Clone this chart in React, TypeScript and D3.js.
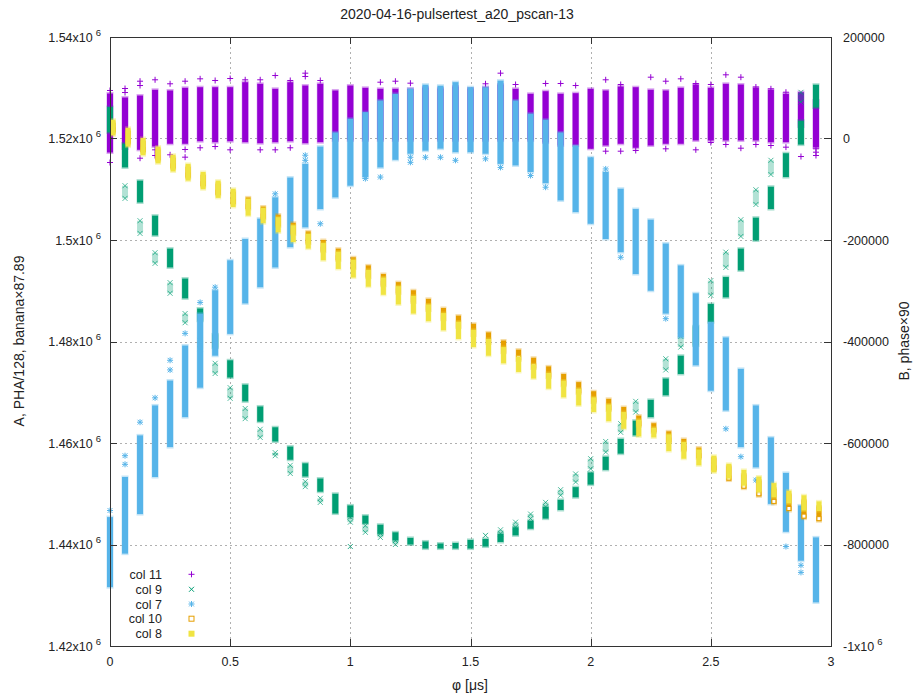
import React from "react";
import * as d3 from "d3";

// scan positions φ [μs]
const phi = [0, 0.0625, 0.125, 0.1875, 0.25, 0.3125, 0.375, 0.4375, 0.5, 0.5625, 0.625, 0.6875, 0.75, 0.8125, 0.875, 0.9375,
  1, 1.0625, 1.125, 1.1875, 1.25, 1.3125, 1.375, 1.4375, 1.5, 1.5625, 1.625, 1.6875, 1.75, 1.8125, 1.875, 1.9375,
  2, 2.0625, 2.125, 2.1875, 2.25, 2.3125, 2.375, 2.4375, 2.5, 2.5625, 2.625, 2.6875, 2.75, 2.8125, 2.875, 2.9375];
const col8Shift = 0.0125;

const title = "2020-04-16-pulsertest_a20_pscan-13";
const xTicks = [0, 0.5, 1, 1.5, 2, 2.5, 3];
const yTicksA = [1.42e6, 1.44e6, 1.46e6, 1.48e6, 1.5e6, 1.52e6, 1.54e6];
const yTicksB = [-1e6, -800000, -600000, -400000, -200000, 0, 200000];
const legendLabels = ["col 11", "col 9", "col 7", "col 10", "col 8"];

// col 11 (B axis): range of each scan step
const col11Top = [88.7e3, 80.8e3, 84.7e3, 96.0e3, 94.6e3, 99.9e3, 101.1e3, 101.1e3, 101.1e3, 110.9e3,
  107.8e3, 97.9e3, 110.9e3, 104.4e3, 107.8e3, 94.6e3, 104.4e3, 99.9e3, 97.9e3, 97.9e3,
  97.9e3, 100.5e3, 98.5e3, 102.5e3, 98.5e3, 101.1e3, 106.4e3, 97.9e3, 88.1e3, 93.2e3,
  88.1e3, 89.3e3, 97.9e3, 94.6e3, 102.5e3, 101.1e3, 96.0e3, 94.6e3, 99.9e3, 106.4e3,
  99.9e3, 107.8e3, 106.4e3, 99.9e3, 96.0e3, 88.1e3, 91.2e3, 74.9e3];
const col11Bottom = [-27.6e3, -19.7e3, -22.3e3, -15.8e3, -10.4e3, -10.4e3, -5.3e3, -7.3e3, -5.3e3, -7.3e3,
  -9.3e3, -7.3e3, -5.3e3, -9.3e3, -7.3e3, -3.9e3, -3.9e3, -3.9e3, -3.9e3, -3.9e3,
  -3.9e3, -3.9e3, -3.9e3, -3.9e3, -3.9e3, -3.9e3, -3.9e3, -3.9e3, -3.9e3, -7.9e3,
  -13.8e3, -13.8e3, -20.3e3, -13.8e3, -10.4e3, -18.3e3, -13.8e3, -10.4e3, -10.4e3, -3.9e3,
  -3.9e3, -3.9e3, -3.9e3, -3.9e3, -7.3e3, -7.3e3, 23.6e3, -17.7e3];
// [step index, value]
const col11Extra = [[0, 94.6e3], [0, -47.3e3], [1, 98.5e3], [1, 90.6e3], [1, -36.8e3], [2, 112.9e3], [2, 104.4e3], [2, -38.8e3],
  [3, 115.7e3], [3, -22.3e3], [3, -33.5e3], [4, 107.8e3], [4, -32.1e3], [5, 112.9e3], [5, -21.7e3], [5, -36.8e3],
  [6, 117.6e3], [6, -18.3e3], [7, 114.3e3], [7, -15.8e3], [8, 118.2e3], [8, -22.3e3], [9, 115.7e3], [10, 115.7e3], [10, -22.3e3],
  [11, 124.1e3], [11, -22.3e3], [12, 114.3e3], [12, -18.3e3], [13, 128.7e3], [13, 122.2e3], [14, 114.3e3],
  [18, 110.9e3], [19, 112.9e3], [20, 109.0e3], [25, 107.8e3], [26, 128.7e3], [27, 106.4e3], [29, 108.4e3], [30, 108.4e3], [31, 104.4e3],
  [33, 115.7e3], [33, -25.0e3], [34, 106.4e3], [34, -25.0e3], [35, -23.6e3], [36, 120.8e3], [37, 112.9e3], [37, -20.3e3],
  [38, 117.6e3], [39, 108.4e3], [39, -22.3e3], [40, 106.4e3], [40, -7.9e3], [41, 125.5e3], [41, -11.8e3], [42, 120.8e3], [42, -19.1e3],
  [43, 101.5e3], [43, -11.8e3], [44, 97.9e3], [44, -13.8e3], [45, 91.2e3], [45, -17.1e3], [46, -35.5e3], [47, -20.3e3], [47, -27.0e3], [47, -33.5e3]];

// col 9 (A axis)
const col9Top = [1526.2e3, 1519.0e3, 1511.7e3, 1504.8e3, 1498.3e3, 1492.4e3, 1486.5e3, 1481.4e3, 1476.3e3, 1471.5e3,
  1467.2e3, 1463.1e3, 1459.3e3, 1456.0e3, 1453.0e3, 1450.0e3, 1447.7e3, 1445.7e3, 1443.9e3, 1442.4e3,
  1441.3e3, 1440.6e3, 1440.2e3, 1440.3e3, 1440.9e3, 1441.1e3, 1442.1e3, 1443.4e3, 1444.7e3, 1447.4e3,
  1448.8e3, 1451.3e3, 1454.2e3, 1457.3e3, 1460.8e3, 1464.4e3, 1468.5e3, 1472.7e3, 1477.2e3, 1483.0e3,
  1487.4e3, 1492.7e3, 1498.3e3, 1504.4e3, 1510.5e3, 1517.1e3, 1523.5e3, 1530.6e3];
const col9Bottom = [1521.2e3, 1514.3e3, 1507.4e3, 1500.9e3, 1494.6e3, 1488.5e3, 1484.1e3, 1478.8e3, 1472.9e3, 1468.2e3,
  1464.2e3, 1460.3e3, 1456.7e3, 1453.4e3, 1450.4e3, 1446.1e3, 1445.4e3, 1444.1e3, 1442.1e3, 1440.8e3,
  1440.0e3, 1439.2e3, 1439.2e3, 1439.2e3, 1439.2e3, 1439.6e3, 1440.5e3, 1441.8e3, 1443.1e3, 1445.1e3,
  1446.8e3, 1449.3e3, 1451.8e3, 1454.7e3, 1457.9e3, 1461.5e3, 1465.1e3, 1469.4e3, 1473.6e3, 1479.2e3,
  1483.8e3, 1488.7e3, 1494.0e3, 1499.9e3, 1506.1e3, 1512.4e3, 1518.8e3, 1526.1e3];
// sparse clusters: [step index, top, bottom]
const col9Sparse = [[1, 1510.7e3, 1508.2e3], [2, 1503.8e3, 1501.3e3], [3, 1497.5e3, 1495.4e3], [4, 1491.6e3, 1489.5e3],
  [5, 1485.5e3, 1483.7e3], [6, 1480.2e3, 1478.6e3], [7, 1475.7e3, 1473.7e3], [8, 1470.9e3, 1468.8e3], [9, 1466.8e3, 1464.8e3],
  [10, 1462.7e3, 1461.1e3], [11, 1458.1e3, 1457.5e3], [12, 1455.6e3, 1454.0e3], [13, 1452.4e3, 1451.4e3], [14, 1449.1e3, 1448.3e3],
  [16, 1445.4e3, 1444.4e3], [17, 1443.7e3, 1442.4e3], [18, 1442.2e3, 1441.4e3], [19, 1440.8e3, 1440.0e3],
  [26, 1442.9e3, 1442.1e3], [27, 1444.4e3, 1443.4e3], [28, 1446.0e3, 1445.1e3], [29, 1448.3e3, 1447.4e3], [30, 1450.8e3, 1449.7e3],
  [31, 1453.9e3, 1452.3e3], [32, 1456.9e3, 1454.9e3], [33, 1460.3e3, 1458.2e3], [34, 1463.8e3, 1462.1e3], [35, 1468.2e3, 1466.1e3],
  [37, 1476.6e3, 1474.4e3], [38, 1481.0e3, 1478.9e3], [40, 1492.0e3, 1489.1e3], [41, 1497.6e3, 1494.6e3], [42, 1504.0e3, 1500.7e3],
  [43, 1509.9e3, 1507.0e3], [44, 1515.7e3, 1512.9e3], [46, 1529.1e3, 1527.2e3]];
const col9Extra = [[16, 1439.6e3], [25, 1441.8e3]];

// col 7 (A axis)
const col7Top = [1445.4e3, 1453.3e3, 1461.5e3, 1467.4e3, 1472.3e3, 1479.2e3, 1485.5e3, 1490.1e3, 1496.0e3, 1500.2e3,
  1504.2e3, 1508.4e3, 1512.3e3, 1515.0e3, 1518.4e3, 1521.2e3, 1523.9e3, 1525.2e3, 1527.5e3, 1528.8e3,
  1529.8e3, 1530.6e3, 1530.4e3, 1531.1e3, 1530.1e3, 1530.1e3, 1531.4e3, 1527.5e3, 1524.9e3, 1523.7e3,
  1521.2e3, 1518.6e3, 1516.3e3, 1513.4e3, 1510.1e3, 1506.1e3, 1504.0e3, 1499.3e3, 1495.0e3, 1489.5e3,
  1483.8e3, 1480.8e3, 1474.6e3, 1467.4e3, 1461.1e3, 1454.1e3, 1447.7e3, 1441.4e3];
const col7Bottom = [1431.6e3, 1438.2e3, 1446.0e3, 1453.3e3, 1459.2e3, 1465.1e3, 1470.9e3, 1477.2e3, 1481.5e3, 1487.5e3,
  1490.7e3, 1494.6e3, 1498.6e3, 1502.5e3, 1506.1e3, 1508.4e3, 1510.7e3, 1512.4e3, 1514.3e3, 1515.8e3,
  1517.0e3, 1517.6e3, 1518.0e3, 1517.3e3, 1517.3e3, 1517.0e3, 1515.0e3, 1514.7e3, 1513.4e3, 1511.2e3,
  1507.8e3, 1505.5e3, 1503.2e3, 1500.2e3, 1497.6e3, 1493.3e3, 1490.0e3, 1485.5e3, 1480.8e3, 1475.3e3,
  1470.3e3, 1466.4e3, 1459.2e3, 1455.2e3, 1448.0e3, 1442.5e3, 1436.8e3, 1428.6e3];
const col7Extra = [[0, 1446.7e3], [1, 1457.5e3], [1, 1455.8e3], [2, 1464.1e3], [3, 1468.9e3], [4, 1476.3e3], [4, 1474.4e3],
  [5, 1481.6e3], [6, 1487.7e3], [7, 1490.7e3], [11, 1509.1e3], [13, 1516.7e3], [13, 1515.7e3], [14, 1503.2e3], [17, 1512.1e3],
  [18, 1512.4e3], [20, 1516.3e3], [20, 1515.3e3], [21, 1516.3e3], [22, 1516.3e3], [23, 1515.7e3], [25, 1516.0e3], [26, 1514.3e3],
  [28, 1512.7e3], [29, 1510.4e3], [33, 1514.0e3], [34, 1496.6e3], [37, 1484.5e3], [41, 1462.8e3], [42, 1457.3e3], [43, 1452.7e3],
  [45, 1439.6e3], [46, 1435.9e3], [46, 1434.5e3]];

// col 10 (A axis)
const col10Top = [1523.1e3, 1521.5e3, 1519.5e3, 1517.8e3, 1516.2e3, 1514.4e3, 1512.8e3, 1511.1e3, 1509.5e3, 1508.4e3,
  1506.6e3, 1505.0e3, 1503.4e3, 1501.7e3, 1500.0e3, 1498.3e3, 1496.6e3, 1495.0e3, 1493.3e3, 1491.7e3,
  1490.1e3, 1488.4e3, 1486.6e3, 1485.1e3, 1483.5e3, 1481.8e3, 1480.2e3, 1478.4e3, 1476.8e3, 1475.1e3,
  1473.6e3, 1472.0e3, 1470.2e3, 1468.7e3, 1467.1e3, 1465.4e3, 1463.9e3, 1462.3e3, 1460.8e3, 1459.1e3,
  1457.0e3, 1455.4e3, 1453.8e3, 1452.6e3, 1451.0e3, 1449.9e3, 1448.7e3, 1447.5e3];
const col10Bottom = [1521.2e3, 1519.0e3, 1517.3e3, 1515.7e3, 1514.1e3, 1512.3e3, 1510.6e3, 1508.9e3, 1507.1e3, 1506.1e3,
  1504.2e3, 1502.7e3, 1501.1e3, 1499.3e3, 1497.7e3, 1496.0e3, 1494.4e3, 1492.6e3, 1491.0e3, 1489.5e3,
  1487.7e3, 1486.1e3, 1484.3e3, 1482.8e3, 1481.2e3, 1479.6e3, 1477.8e3, 1476.3e3, 1474.7e3, 1472.9e3,
  1471.3e3, 1469.8e3, 1468.0e3, 1466.4e3, 1464.8e3, 1463.3e3, 1462.1e3, 1460.1e3, 1458.5e3, 1457.0e3,
  1454.6e3, 1452.6e3, 1451.0e3, 1449.5e3, 1448.0e3, 1446.6e3, 1445.1e3, 1444.6e3];

// col 8 (A axis)
const col8Top = [1523.7e3, 1522.1e3, 1520.1e3, 1518.4e3, 1516.8e3, 1515.0e3, 1513.4e3, 1511.7e3, 1510.1e3, 1508.1e3,
  1506.3e3, 1504.5e3, 1502.9e3, 1501.2e3, 1499.4e3, 1497.7e3, 1496.1e3, 1494.1e3, 1492.6e3, 1490.9e3,
  1489.0e3, 1487.3e3, 1485.6e3, 1483.9e3, 1482.3e3, 1480.5e3, 1478.9e3, 1477.0e3, 1475.5e3, 1473.8e3,
  1472.3e3, 1470.7e3, 1469.0e3, 1467.6e3, 1466.1e3, 1464.6e3, 1463.0e3, 1461.7e3, 1460.2e3, 1458.7e3,
  1457.5e3, 1455.9e3, 1454.7e3, 1453.4e3, 1452.1e3, 1450.6e3, 1449.7e3, 1448.5e3];
const col8Bottom = [1520.6e3, 1518.4e3, 1516.7e3, 1515.1e3, 1513.5e3, 1511.7e3, 1510.0e3, 1508.3e3, 1506.5e3, 1504.8e3,
  1503.3e3, 1501.5e3, 1499.6e3, 1498.3e3, 1496.0e3, 1494.3e3, 1492.6e3, 1490.8e3, 1489.2e3, 1487.3e3,
  1485.5e3, 1484.0e3, 1482.2e3, 1480.5e3, 1478.9e3, 1477.2e3, 1475.7e3, 1474.0e3, 1472.7e3, 1470.7e3,
  1469.0e3, 1467.4e3, 1466.1e3, 1464.3e3, 1462.8e3, 1461.3e3, 1461.1e3, 1458.4e3, 1456.9e3, 1455.6e3,
  1454.2e3, 1453.0e3, 1451.6e3, 1450.3e3, 1449.3e3, 1448.1e3, 1446.7e3, 1446.6e3];

const C11 = "#9400d3", C9 = "#009e73", C7 = "#56b4e9", C10 = "#e69f00", C8 = "#f0e442";
const FONT = "'Liberation Sans', Arial, Helvetica, sans-serif";

const L = 110, R = 831, T = 37, B = 646;

const plusP = (cx: number, cy: number, s: number) => `M${cx - s},${cy}H${cx + s}M${cx},${cy - s}V${cy + s}`;
const crossP = (cx: number, cy: number, s: number) => `M${cx - s},${cy - s}L${cx + s},${cy + s}M${cx - s},${cy + s}L${cx + s},${cy - s}`;
const starP = (cx: number, cy: number, s: number) => plusP(cx, cy, s) + crossP(cx, cy, s * 0.8);

export default function App() {
  const x = d3.scaleLinear().domain([0, 3]).range([L, R]);
  const yA = d3.scaleLinear().domain([1.42e6, 1.54e6]).range([B, T]);
  const yB = d3.scaleLinear().domain([-1e6, 2e5]).range([B, T]);

  const strip = (cx: number, yt: number, yb: number, w: number, color: string, key: string) => (
    <g key={key}>
      <rect x={cx - w / 2 - 0.5} y={yt - 1.5} width={w + 1} height={yb - yt + 3} fill={color} opacity={0.35} />
      <rect x={cx - w / 2} y={yt} width={w} height={yb - yt} fill={color} />
    </g>
  );

  const supLabel = (base: string, exp: string) => (
    <>
      <tspan>{base}</tspan>
      <tspan dx={3} dy={-6} fontSize={9.5}>{exp}</tspan>
    </>
  );

  const legendY = [574.3, 589.3, 604, 618.7, 633.7];

  return (
    <svg width={914} height={697} style={{ position: "absolute", left: 0, top: 0, background: "#fff" }}
      fontFamily={FONT} fontSize={12}>
      <rect x={0} y={0} width={914} height={697} fill="#fff" />
      {/* grid */}
      <g stroke="#b0b0b0" strokeWidth={1} strokeDasharray="2,3">
        {yTicksA.slice(1, -1).map((v) => (
          <line key={"gy" + v} x1={L} x2={R} y1={Math.round(yA(v)) + 0.5} y2={Math.round(yA(v)) + 0.5} />
        ))}
        {xTicks.slice(1, -1).map((v) => (
          <line key={"gx" + v} x1={Math.round(x(v)) + 0.5} x2={Math.round(x(v)) + 0.5} y1={T} y2={B} />
        ))}
      </g>

      {/* col 11 */}
      <g>
        {phi.map((p, i) => strip(x(p), yB(col11Top[i]), yB(col11Bottom[i]), 6, C11, "p" + i))}
        <path d={col11Extra.map(([k, v]) => plusP(x(phi[k]), yB(v), 3)).join("")} stroke={C11} strokeWidth={1} fill="none" />
      </g>
      {/* col 9 */}
      <g>
        {phi.map((p, i) => strip(x(p), yA(col9Top[i]), yA(col9Bottom[i]), 6, C9, "g" + i))}
        {col9Sparse.map(([k, t, b]) => (
          <g key={"gs" + k}>
            <rect x={x(phi[k]) - 3} y={yA(t)} width={6} height={yA(b) - yA(t)} fill={C9} opacity={0.3} />
            <path d={crossP(x(phi[k]), yA(t), 2.5) + crossP(x(phi[k]), yA(b), 2.5)} stroke={C9} strokeWidth={1} opacity={0.7} fill="none" />
          </g>
        ))}
        <path d={col9Extra.map(([k, v]) => crossP(x(phi[k]), yA(v), 2.5)).join("")} stroke={C9} strokeWidth={1} fill="none" opacity={0.8} />
      </g>
      {/* col 7 */}
      <g>
        {phi.map((p, i) => strip(x(p), yA(col7Top[i]), yA(col7Bottom[i]), 6, C7, "b" + i))}
        <path d={col7Extra.map(([k, v]) => starP(x(phi[k]), yA(v), 3)).join("")} stroke={C7} strokeWidth={1} fill="none" />
      </g>
      {/* col 10 */}
      <g>
        {phi.map((p, i) => strip(x(p + col8Shift), yA(col10Top[i]), yA(col10Bottom[i]), 5, C10, "o" + i))}
        {phi.map((p, i) => (
          <rect key={"os" + i} x={x(p + col8Shift) - 2} y={yA(col10Bottom[i]) - 4.5} width={4} height={4}
            fill="#fff" stroke={C10} strokeWidth={1} />
        ))}
      </g>
      {/* col 8 */}
      <g>
        {phi.map((p, i) => strip(x(p + col8Shift), yA(col8Top[i]), yA(col8Bottom[i]), 5, C8, "y" + i))}
      </g>

      {/* border */}
      <rect x={L + 0.5} y={T + 0.5} width={R - L} height={B - T} fill="none" stroke="#333" strokeWidth={1} />

      {/* ticks */}
      <g stroke="#333" strokeWidth={1}>
        {yTicksA.map((v) => (
          <line key={"ta" + v} x1={L} x2={L + 7} y1={Math.round(yA(v)) + 0.5} y2={Math.round(yA(v)) + 0.5} />
        ))}
        {yTicksB.map((v) => (
          <line key={"tb" + v} x1={R - 7} x2={R} y1={Math.round(yB(v)) + 0.5} y2={Math.round(yB(v)) + 0.5} />
        ))}
        {xTicks.map((v) => (
          <g key={"tx" + v}>
            <line x1={Math.round(x(v)) + 0.5} x2={Math.round(x(v)) + 0.5} y1={B} y2={B - 7} />
            <line x1={Math.round(x(v)) + 0.5} x2={Math.round(x(v)) + 0.5} y1={T} y2={T + 7} />
          </g>
        ))}
      </g>

      {/* tick labels */}
      <g fill="#222" fontSize={12.5}>
        {yTicksA.map((v) => (
          <text key={"la" + v} x={101} y={yA(v) + 4.5} textAnchor="end">
            {supLabel(String(+(v / 1e6).toFixed(2)) + "x10", "6")}
          </text>
        ))}
        {yTicksB.map((v) => (
          <text key={"lb" + v} x={843} y={yB(v) + 4.5} textAnchor="start">
            {v === -1e6 ? supLabel("-1x10", "6") : String(v)}
          </text>
        ))}
        {xTicks.map((v) => (
          <text key={"lx" + v} x={x(v)} y={665.5} textAnchor="middle">{String(v)}</text>
        ))}
      </g>

      {/* titles */}
      <text x={457} y={19} textAnchor="middle" fill="#222" fontSize={14}>{title}</text>
      <text x={470} y={690} textAnchor="middle" fill="#222" fontSize={14}>φ [μs]</text>
      <text transform="translate(23.5,341) rotate(-90)" textAnchor="middle" fill="#222" fontSize={14}>A, PHA/128, banana×87.89</text>
      <text transform="translate(909,341) rotate(-90)" textAnchor="middle" fill="#222" fontSize={14}>B, phase×90</text>

      {/* legend */}
      <g fill="#222" fontSize={12.5}>
        {legendLabels.map((lab, i) => (
          <text key={"lg" + i} x={162} y={legendY[i] + 4.5} textAnchor="end">{lab}</text>
        ))}
      </g>
      <path d={plusP(191.5, legendY[0], 3)} stroke={C11} strokeWidth={1} />
      <path d={crossP(191.5, legendY[1], 2.5)} stroke={C9} strokeWidth={1} />
      <path d={starP(191.5, legendY[2], 3)} stroke={C7} strokeWidth={1} />
      <rect x={189} y={legendY[3] - 2.5} width={5} height={5} fill="none" stroke={C10} strokeWidth={1} />
      <rect x={188.5} y={legendY[4] - 3} width={6} height={6} fill={C8} />
    </svg>
  );
}
